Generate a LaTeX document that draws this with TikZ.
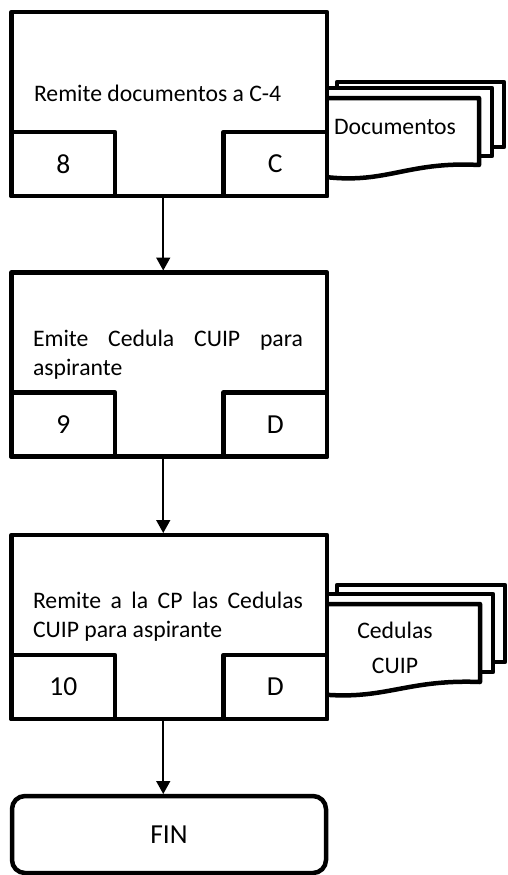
\documentclass[tikz,border=0pt]{standalone}
\usepackage{fontspec}
\setmainfont{Carlito}
\usetikzlibrary{arrows.meta}
\begin{document}
\begin{tikzpicture}[x=1pt,y=-1pt,
  every node/.style={font=\fontsize{23.7}{29}\selectfont, inner sep=0pt, outer sep=0pt},
  procbox/.style={draw, line width=4.5pt, fill=white, minimum width=315.5pt, minimum height=184pt, line join=round},
  subbox/.style={draw, line width=4.5pt, minimum width=103.5pt, minimum height=64pt, line join=round, font=\fontsize{27.5}{33}\selectfont},
  docshape/.style={draw, line width=4.5pt, fill=white, line join=round},
  arr/.style={line width=1.6pt, -{Triangle[width=14pt,length=13pt]}, shorten >=2pt},
  finbox/.style={draw, line width=4.5pt, rounded corners=13pt, minimum width=314pt, minimum height=77pt, font=\fontsize{27.5}{33}\selectfont},
  jtext/.style={text width=270pt, align=justify, anchor=base west}]
\hyphenpenalty=10000 \tolerance=10000
\useasboundingbox (0,0) rectangle (507,875);
% documents stack 1
\draw[docshape] (337,82) -- (504,82) -- (504,147) -- (337,147) -- cycle;
\draw[docshape] (318,88) -- (492,88) -- (492,156) -- (318,156) -- cycle;
\draw[docshape] (318,98) -- (479,98) -- (479,165) .. controls (405,161) and (385,186) .. (318,176) -- cycle;
% documents stack 3
\draw[docshape] (337,585) -- (505,585) -- (505,662) -- (337,662) -- cycle;
\draw[docshape] (318,594) -- (493,594) -- (493,672) -- (318,672) -- cycle;
\draw[docshape] (318,604) -- (480,604) -- (480,682) .. controls (405,679) and (385,701) .. (318,694) -- cycle;
% box 1
\node[procbox] (b1) at (169.25,104) {};
\node[subbox, anchor=south west] (n1) at (b1.south west) {8};
\node[subbox, anchor=south east] (r1) at (b1.south east) {C};
\node[anchor=base west] (t1) at (34,101) {Remite documentos a C-4};
\node (d1) at (395,127) {Documentos};
% box 2
\node[procbox] (b2) at (169.25,364.5) {};
\node[subbox, anchor=south west] (n2) at (b2.south west) {9};
\node[subbox, anchor=south east] (r2) at (b2.south east) {D};
\node[jtext] (t2) at (33,346) {Emite Cedula CUIP para aspirante};
% box 3
\node[procbox] (b3) at (169.25,627) {};
\node[subbox, anchor=south west] (n3) at (b3.south west) {10};
\node[subbox, anchor=south east] (r3) at (b3.south east) {D};
\node[jtext] (t3) at (33,608) {Remite a la CP las Cedulas CUIP para aspirante};
\node[align=center] (d3) at (395,648) {Cedulas\\[6pt]CUIP};
% end
\node[finbox] (fin) at (169,834.5) {FIN};
% arrows
\draw[arr] ([xshift=-6pt]b1.south) -- ([xshift=-6pt]b2.north);
\draw[arr] ([xshift=-6pt]b2.south) -- ([xshift=-6pt]b3.north);
\draw[arr] ([xshift=-6pt]b3.south) -- ([xshift=-6pt]b3.south |- fin.north);
\end{tikzpicture}
\end{document}
